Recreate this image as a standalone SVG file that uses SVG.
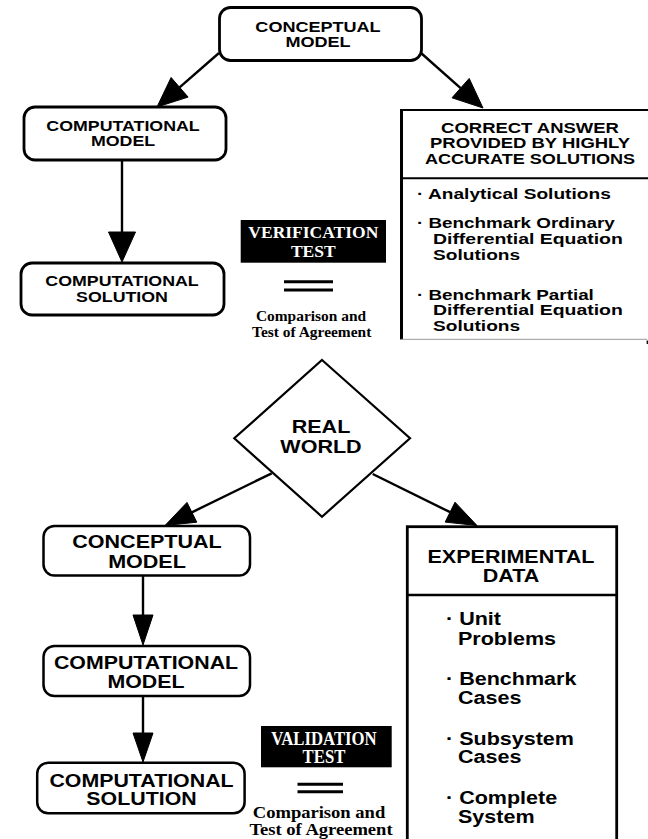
<svg xmlns="http://www.w3.org/2000/svg" width="648" height="839" viewBox="0 0 648 839">
<style>
.bg{fill:#fff}
.box{fill:#fff;stroke:#000;stroke-width:2.8}
.box2{fill:#fff;stroke:#000;stroke-width:2.5}
.ln{fill:none;stroke:#000;stroke-width:2.4}
.ah{fill:#000;stroke:#000;stroke-width:1}
.blk{fill:#000}
.eq{stroke:#000;stroke-width:3}
text{font-family:"Liberation Sans",Arial,Helvetica,sans-serif;font-weight:bold;fill:#000}
.h{font-size:14px;text-anchor:middle}
.l{font-size:14.5px;text-anchor:start}
.H{font-size:17.5px;text-anchor:middle}
.L{font-size:17.5px;text-anchor:start}
.tw{font-family:"Liberation Serif","Times New Roman",serif;fill:#fff;text-anchor:middle}
.tc{font-family:"Liberation Serif","Times New Roman",serif;text-anchor:middle}
</style>
<rect class="bg" x="0" y="0" width="648" height="839"/>

<g id="connectors">
  <line class="ln" x1="219" y1="53" x2="179.6" y2="87.3"/>
  <polygon class="ah" points="157,107 188.1,97.1 171.1,77.5"/>
  <line class="ln" x1="421" y1="53" x2="460.6" y2="88.1"/>
  <polygon class="ah" points="483,108 452,97.8 469.2,78.4"/>
  <line class="ln" x1="122" y1="160" x2="122" y2="233"/>
  <polygon class="ah" points="108.5,232 135.5,232 122,262"/>
  <line class="ln" x1="271.7" y1="473.3" x2="191.9" y2="512.3"/>
  <polygon class="ah" points="165,525.5 196.8,522.2 187,502.4"/>
  <line class="ln" x1="372.7" y1="474" x2="450.1" y2="512.2"/>
  <polygon class="ah" points="477,525.5 445.2,522.1 455,502.2"/>
  <line class="ln" x1="143" y1="575" x2="143" y2="616"/>
  <polygon class="ah" points="133,615 153,615 143,645"/>
  <line class="ln" x1="143" y1="696" x2="143" y2="734"/>
  <polygon class="ah" points="133,733 153,733 143,762"/>
</g>

<g id="top-conceptual-model">
  <rect class="box" x="219.5" y="7.5" width="202" height="53" rx="11"/>
  <text class="h" transform="translate(318,31.7) scale(1.29,1)">CONCEPTUAL</text>
  <text class="h" transform="translate(318,47.3) scale(1.29,1)">MODEL</text>
</g>

<g id="top-computational-model">
  <rect class="box" x="24" y="107" width="202" height="53" rx="11"/>
  <text class="h" transform="translate(123,130.5) scale(1.27,1)">COMPUTATIONAL</text>
  <text class="h" transform="translate(123,146.3) scale(1.27,1)">MODEL</text>
</g>

<g id="top-computational-solution">
  <rect class="box" x="21" y="263" width="203" height="52" rx="11"/>
  <text class="h" transform="translate(122,285.7) scale(1.27,1)">COMPUTATIONAL</text>
  <text class="h" transform="translate(122,301.7) scale(1.27,1)">SOLUTION</text>
</g>

<g id="correct-answer">
  <rect class="bg" x="401" y="110" width="247" height="229"/>
  <line x1="401.5" y1="110" x2="648" y2="110" stroke="#000" stroke-width="2.2"/>
  <line x1="401.5" y1="109" x2="401.5" y2="339.5" stroke="#000" stroke-width="3"/>
  <line x1="401" y1="178.3" x2="648" y2="178.3" stroke="#000" stroke-width="2"/>
  <line x1="401" y1="339.3" x2="647" y2="339.3" stroke="#999" stroke-width="1"/>
  <line x1="647.3" y1="340.5" x2="647.3" y2="344" stroke="#000" stroke-width="1.3"/>
  <text class="h" transform="translate(530,132.8) scale(1.32,1)">CORRECT ANSWER</text>
  <text class="h" transform="translate(530,148.3) scale(1.32,1)">PROVIDED BY HIGHLY</text>
  <text class="h" transform="translate(530,163.8) scale(1.29,1)">ACCURATE SOLUTIONS</text>
  <text class="l" transform="translate(417,199) scale(1.32,1)">· Analytical Solutions</text>
  <text class="l" transform="translate(417,228) scale(1.3,1)">· Benchmark Ordinary</text>
  <text class="l" transform="translate(433,243.5) scale(1.34,1)">Differential Equation</text>
  <text class="l" transform="translate(433,259.5) scale(1.32,1)">Solutions</text>
  <text class="l" transform="translate(417,299.5) scale(1.3,1)">· Benchmark Partial</text>
  <text class="l" transform="translate(433,315) scale(1.34,1)">Differential Equation</text>
  <text class="l" transform="translate(433,331) scale(1.32,1)">Solutions</text>
</g>

<g id="verification-test">
  <rect class="blk" x="240.7" y="220" width="145.3" height="42.7"/>
  <text class="tw" font-size="17.5" transform="translate(313.3,238.3)">VERIFICATION</text>
  <text class="tw" font-size="17.5" transform="translate(313.3,257.3)">TEST</text>
  <line class="eq" x1="284" y1="281.7" x2="333" y2="281.7"/>
  <line class="eq" x1="284" y1="290" x2="333" y2="290"/>
  <text class="tc" font-size="15" transform="translate(311,320.7) scale(1.03,1)">Comparison and</text>
  <text class="tc" font-size="15" transform="translate(311.7,336.7) scale(1.03,1)">Test of Agreement</text>
</g>

<g id="real-world">
  <polygon points="322,360 410,438.3 322,516.7 234.3,438.3" fill="#fff" stroke="#000" stroke-width="2.2"/>
  <text class="H" transform="translate(321,433) scale(1.23,1)">REAL</text>
  <text class="H" transform="translate(321,452.7) scale(1.23,1)">WORLD</text>
</g>

<g id="bottom-conceptual-model">
  <rect class="box2" x="43.5" y="526" width="206.5" height="49.5" rx="11"/>
  <text class="H" transform="translate(147,548.3) scale(1.23,1)">CONCEPTUAL</text>
  <text class="H" transform="translate(147,568.3) scale(1.23,1)">MODEL</text>
</g>

<g id="bottom-computational-model">
  <rect class="box2" x="43.5" y="646" width="206.5" height="50" rx="11"/>
  <text class="H" transform="translate(146,669.3) scale(1.22,1)">COMPUTATIONAL</text>
  <text class="H" transform="translate(146,688.3) scale(1.22,1)">MODEL</text>
</g>

<g id="bottom-computational-solution">
  <rect class="box2" x="37.2" y="762.7" width="207.4" height="50.6" rx="11"/>
  <text class="H" transform="translate(141.5,786.7) scale(1.22,1)">COMPUTATIONAL</text>
  <text class="H" transform="translate(141.5,805) scale(1.22,1)">SOLUTION</text>
</g>

<g id="experimental-data">
  <rect x="407.3" y="526.7" width="209.4" height="330" fill="#fff" stroke="#000" stroke-width="2.8"/>
  <line x1="407.3" y1="595" x2="616.7" y2="595" stroke="#000" stroke-width="2.5"/>
  <text class="H" transform="translate(511,563.3) scale(1.23,1)">EXPERIMENTAL</text>
  <text class="H" transform="translate(511,581.7) scale(1.23,1)">DATA</text>
  <text class="L" transform="translate(446,625) scale(1.23,1)">· Unit</text>
  <text class="L" transform="translate(458,645) scale(1.23,1)">Problems</text>
  <text class="L" transform="translate(446,684.5) scale(1.23,1)">· Benchmark</text>
  <text class="L" transform="translate(458,704) scale(1.23,1)">Cases</text>
  <text class="L" transform="translate(446,744.5) scale(1.23,1)">· Subsystem</text>
  <text class="L" transform="translate(458,763.3) scale(1.23,1)">Cases</text>
  <text class="L" transform="translate(446,804) scale(1.23,1)">· Complete</text>
  <text class="L" transform="translate(458,822.7) scale(1.23,1)">System</text>
</g>

<g id="validation-test">
  <rect class="blk" x="261" y="726" width="130.7" height="41.3"/>
  <text class="tw" font-size="18" transform="translate(324,745) scale(0.93,1)">VALIDATION</text>
  <text class="tw" font-size="18" transform="translate(324,763.3) scale(0.93,1)">TEST</text>
  <line class="eq" x1="297.5" y1="784.3" x2="343" y2="784.3"/>
  <line class="eq" x1="297.5" y1="791.7" x2="343" y2="791.7"/>
  <text class="tc" font-size="16" transform="translate(319,818.3) scale(1.16,1)">Comparison and</text>
  <text class="tc" font-size="16" transform="translate(321,835) scale(1.16,1)">Test of Agreement</text>
</g>
</svg>
